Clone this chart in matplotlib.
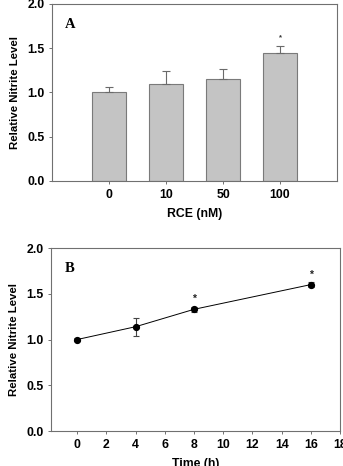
import matplotlib
matplotlib.use('Agg')
from matplotlib import pyplot as plt
import numpy as np

# panel A: nitrite vs RCE concentration
rce_labels = ['0', '10', '50', '100']
rce_mean = [1.00, 1.10, 1.15, 1.44]
rce_err = [0.06, 0.14, 0.12, 0.08]
rce_star = [False, False, False, True]

# panel B: nitrite vs time
time_h = [0, 4, 8, 16]
time_mean = [1.00, 1.14, 1.33, 1.60]
time_err = [0.02, 0.10, 0.03, 0.03]
time_star = [False, False, True, True]

plt.rcParams['font.family'] = ['Liberation Sans', 'DejaVu Sans']
plt.rcParams['font.weight'] = 'bold'
spine_col = '#707070'

fig = plt.figure(figsize=(3.43, 4.66), dpi=100)

def style_axes(ax):
    for s in ax.spines.values():
        s.set_color(spine_col)
        s.set_linewidth(0.8)
    ax.tick_params(direction='out', length=2.5, width=0.7, color=spine_col,
                   labelsize=8.8, pad=3)
    for lab in ax.get_xticklabels() + ax.get_yticklabels():
        lab.set_fontweight('bold')

# ---- A ----
axA = fig.add_axes([0.1516, 0.6116, 0.831, 0.380])
xa = np.arange(len(rce_labels))
axA.bar(xa, rce_mean, width=0.61, color='#c4c4c4', edgecolor='#7a7a7a', linewidth=0.8)
axA.errorbar(xa, rce_mean, yerr=[np.zeros(len(rce_err)), rce_err], fmt='none',
             ecolor='#6a6a6a', elinewidth=0.8, capsize=3, capthick=0.8)
for i in range(len(xa)):
    if rce_star[i]:
        axA.text(xa[i], rce_mean[i] + rce_err[i] + 0.1, '*', ha='center', va='center',
                 fontsize=5.5, color='#333333')
axA.set_xlim(-1, 4)
axA.set_ylim(0, 2.0)
axA.set_xticks(xa)
axA.set_xticklabels(rce_labels)
axA.set_yticks([0, 0.5, 1.0, 1.5, 2.0])
axA.set_yticklabels(['0.0', '0.5', '1.0', '1.5', '2.0'])
axA.set_xlabel('RCE (nM)', fontsize=8.8, fontweight='bold', labelpad=5)
axA.set_ylabel('Relative Nitrite Level', fontsize=8.2, fontweight='bold', labelpad=5)
axA.text(0.063, 0.885, 'A', transform=axA.transAxes, fontsize=10.5, fontweight='bold',
         family='Liberation Serif', va='center', ha='center')
style_axes(axA)

# ---- B ----
axB = fig.add_axes([0.1487, 0.0751, 0.8426, 0.3927])
axB.errorbar(time_h, time_mean, yerr=time_err, fmt='-o', color='black', lw=0.7,
             markersize=4.2, ecolor='#444444', elinewidth=0.8, capsize=2.5, capthick=0.8)
for i in range(len(time_h)):
    if time_star[i]:
        axB.text(time_h[i], time_mean[i] + 0.11, '*', ha='center', va='center',
                 fontsize=7.5, color='#222222')
axB.set_xlim(-1.8, 18)
axB.set_ylim(0, 2.0)
axB.set_xticks(np.arange(0, 19, 2))
axB.set_yticks([0, 0.5, 1.0, 1.5, 2.0])
axB.set_yticklabels(['0.0', '0.5', '1.0', '1.5', '2.0'])
axB.set_xlabel('Time (h)', fontsize=8.8, fontweight='bold', labelpad=5)
axB.set_ylabel('Relative Nitrite Level', fontsize=8.2, fontweight='bold', labelpad=5)
axB.text(0.066, 0.89, 'B', transform=axB.transAxes, fontsize=10.5, fontweight='bold',
         family='Liberation Serif', va='center', ha='center')
style_axes(axB)

fig.savefig('out.png', dpi=100)
